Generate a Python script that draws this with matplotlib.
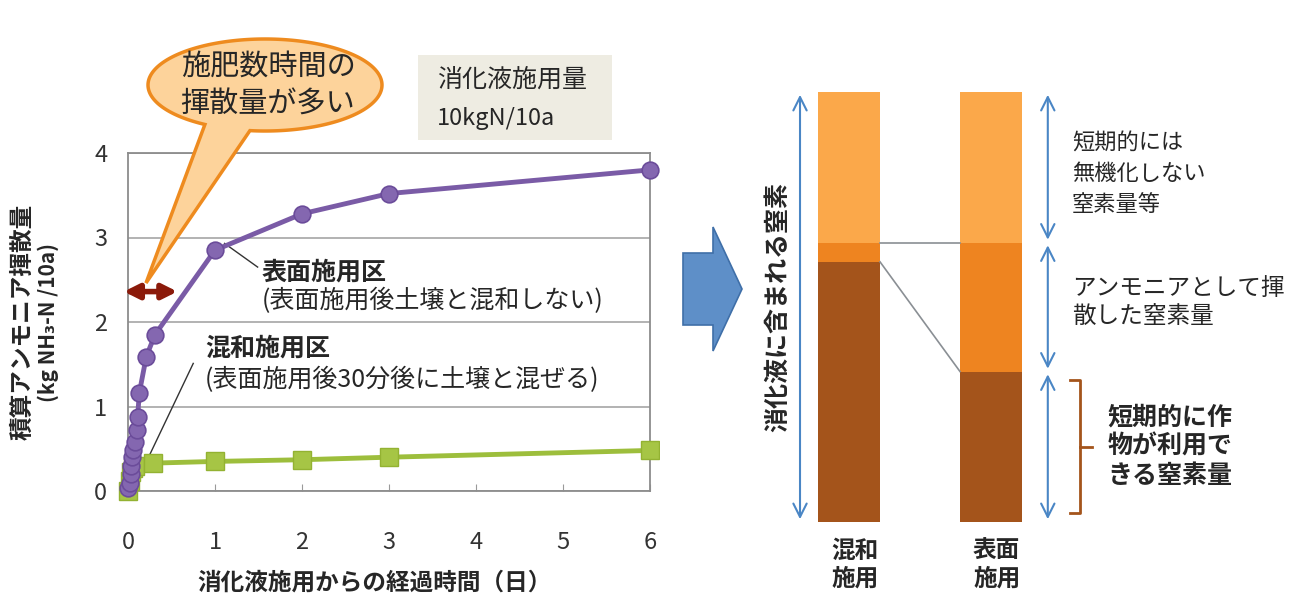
import numpy as np
import matplotlib
matplotlib.use("Agg")
import matplotlib.pyplot as plt
from matplotlib.patches import Polygon, Rectangle

plt.rcParams["font.family"] = ["Noto Sans CJK JP", "DejaVu Sans"]

# left chart: cumulative NH3 volatilisation (kg NH3-N / 10a) vs days after application
surface_days = [0, 0.02, 0.03, 0.04, 0.05, 0.06, 0.08, 0.10, 0.11, 0.13, 0.21, 0.31, 1, 2, 3, 6]
surface_nh3 = [0.03, 0.10, 0.20, 0.30, 0.40, 0.48, 0.58, 0.72, 0.87, 1.16, 1.59, 1.85, 2.85, 3.28, 3.52, 3.80]
mixed_days = [0, 0.02, 0.04, 0.06, 0.08, 0.29, 1, 2, 3, 6]
mixed_nh3 = [0.0, 0.12, 0.22, 0.27, 0.30, 0.33, 0.35, 0.37, 0.40, 0.48]
x_ticks = [0, 1, 2, 3, 4, 5, 6]
y_ticks = [0, 1, 2, 3, 4]

# right diagram: breakdown of the 10 kgN applied
bar_labels = ["混和\n施用", "表面\n施用"]
crop_n = [6.05, 3.5]        # usable by crop short-term
volatilized_n = [0.45, 3.0]  # lost as ammonia
other_n = [3.5, 3.5]         # not mineralised short-term

W, H = 1298, 603
TXT = "#262626"
LIGHT, MID, DARK = "#FBA84A", "#EE8420", "#A4541B"
BLUE = "#4A86C5"

fig = plt.figure(figsize=(W / 100, H / 100), dpi=100)

# ---------------- left chart
ax = fig.add_axes([128 / W, 1 - 491 / H, 522 / W, 338 / H])
ax.set_xlim(0, 6)
ax.set_ylim(0, 4)
ax.set_xticks(x_ticks)
ax.set_yticks(y_ticks)
ax.yaxis.grid(True, color="#A6A6A6", lw=1.2)
ax.set_axisbelow(True)
for s in ax.spines.values():
    s.set_color("#8C8C8C")
    s.set_linewidth(1.3)
ax.tick_params(axis="y", length=0, pad=15, labelsize=17, labelcolor="#333333")
ax.tick_params(axis="x", direction="in", length=5, color="#9A9A9A", pad=29,
               labelsize=17, labelcolor="#333333")

ax.plot(mixed_days, mixed_nh3, color="#9DBE3C", lw=3.5, marker="s", ms=13,
        mfc="#A6C545", mec="#93B232", clip_on=False, zorder=3)
ax.plot(surface_days, surface_nh3, color="#7A5BA6", lw=3.5, marker="o", ms=12,
        mfc="#8467B0", mec="#6B4C9A", mew=1.2, clip_on=False, zorder=4)

ax.text(1.54, 2.59, "表面施用区", fontsize=18, fontweight="bold", color=TXT, va="center")
ax.text(1.54, 2.25, "(表面施用後土壌と混和しない)", fontsize=18, color=TXT, va="center")
ax.plot([1.11, 1.49], [2.93, 2.65], color="#333333", lw=1)
ax.text(0.885, 1.69, "混和施用区", fontsize=18, fontweight="bold", color=TXT, va="center")
ax.text(0.885, 1.31, "(表面施用後30分後に土壌と混ぜる)", fontsize=18, color=TXT, va="center")
ax.plot([0.75, 0.25], [1.51, 0.43], color="#333333", lw=1)

ax.annotate("", xy=(-0.08, 2.36), xytext=(0.6, 2.36), annotation_clip=False,
            arrowprops=dict(arrowstyle="<|-|>", color="#8B1A0A", lw=4, mutation_scale=22))

ax.set_xlabel("消化液施用からの経過時間（日）", fontsize=17, fontweight="bold", color=TXT)
ax.xaxis.set_label_coords(0.473, -0.235)
ax.text(-0.203, 0.5, "積算アンモニア揮散量", transform=ax.transAxes, rotation=90,
        fontsize=17, fontweight="bold", color=TXT, ha="center", va="center")
ax.text(-0.152, 0.5, "(kg NH₃-N /10a)", transform=ax.transAxes, rotation=90,
        fontsize=15, fontweight="bold", color=TXT, ha="center", va="center")

# ---------------- decorations (callout, condition box, big arrow) in pixel space
deco = fig.add_axes([0, 0, 1, 1], zorder=5)
deco.set_xlim(0, W)
deco.set_ylim(H, 0)
deco.axis("off")
deco.patch.set_visible(False)

cx, cy, a, b = 265, 85, 117, 46
t = np.radians(np.linspace(120.9, 97.4 + 360, 200))
pts = np.column_stack([cx + a * np.cos(t), cy + b * np.sin(t)])
pts = np.vstack([pts, [146, 283]])
deco.add_patch(Polygon(pts, closed=True, fc="#FDD39B", ec="#EE8B1F", lw=2.5))
deco.text(cx + 3, cy + 1, "施肥数時間の\n揮散量が多い", fontsize=21, color=TXT,
          ha="center", va="center", linespacing=1.35)

deco.add_patch(Rectangle((418, 55), 194, 85, fc="#EEECE2", ec="none"))
deco.text(437, 80, "消化液施用量", fontsize=18, color=TXT, va="center")
deco.text(437, 118, "10kgN/10a", fontsize=17, color=TXT, va="center")

arrow = [(683, 253), (713, 253), (713, 227), (742, 289), (713, 351), (713, 325), (683, 325)]
deco.add_patch(Polygon(arrow, closed=True, fc="#5E8FC8", ec="#3F6FA8", lw=1.2))

# ---------------- right diagram
bx = fig.add_axes([660 / W, 1 - 522 / H, (W - 660) / W, 430 / H])
bx.set_xlim(-1.331, 3.162)
bx.set_ylim(0, 10)
for s in bx.spines.values():
    s.set_visible(False)
bx.set_yticks([])

pos = np.arange(len(bar_labels))
w = 0.437
crop_n = np.array(crop_n)
vol_top = crop_n + np.array(volatilized_n)
bx.bar(pos, crop_n, w, color=DARK)
bx.bar(pos, volatilized_n, w, bottom=crop_n, color=MID)
bx.bar(pos, other_n, w, bottom=vol_top, color=LIGHT)
bx.set_xticks(pos + 0.04)
bx.set_xticklabels(bar_labels, fontsize=17, fontweight="bold", color=TXT, linespacing=1.2)
bx.tick_params(axis="x", length=0, pad=12)

total = vol_top + np.array(other_n)
bx.plot([w / 2, 1 - w / 2], [vol_top[0], vol_top[1]], color="#8A8F94", lw=1.2)
bx.plot([w / 2, 1 - w / 2], [crop_n[0], crop_n[1]], color="#8A8F94", lw=1.2)

ap = dict(arrowstyle="<->", color=BLUE, lw=1.5, mutation_scale=24)
bx.annotate("", xy=(-0.345, total[0]), xytext=(-0.345, 0), arrowprops=ap)
segs = [0, crop_n[1], vol_top[1], total[1]]
for y0, y1 in zip(segs[:-1], segs[1:]):
    bx.annotate("", xy=(1.40, y1), xytext=(1.40, y0), arrowprops=ap)

bx.text(-0.50, total[0] / 2, "消化液に含まれる窒素", rotation=90, fontsize=18,
        fontweight="bold", color=TXT, ha="center", va="center")
bx.text(1.57, 8.1, "短期的には\n無機化しない\n窒素量等", fontsize=16, color=TXT,
        va="center", linespacing=1.45)
bx.text(1.57, 5.1, "アンモニアとして揮\n散した窒素量", fontsize=17, color=TXT,
        va="center", linespacing=1.35)

top, bot = crop_n[1] - 0.2, 0.2
bx.plot([1.556, 1.627, 1.627, 1.556], [top, top, bot, bot], color="#A4541B", lw=2)
bx.plot([1.627, 1.711], [crop_n[1] / 2, crop_n[1] / 2], color="#A4541B", lw=2)
bx.text(1.82, crop_n[1] / 2, "短期的に作\n物が利用で\nきる窒素量", fontsize=18,
        fontweight="bold", color=TXT, va="center", linespacing=1.25)

fig.savefig("out.png", dpi=100)
